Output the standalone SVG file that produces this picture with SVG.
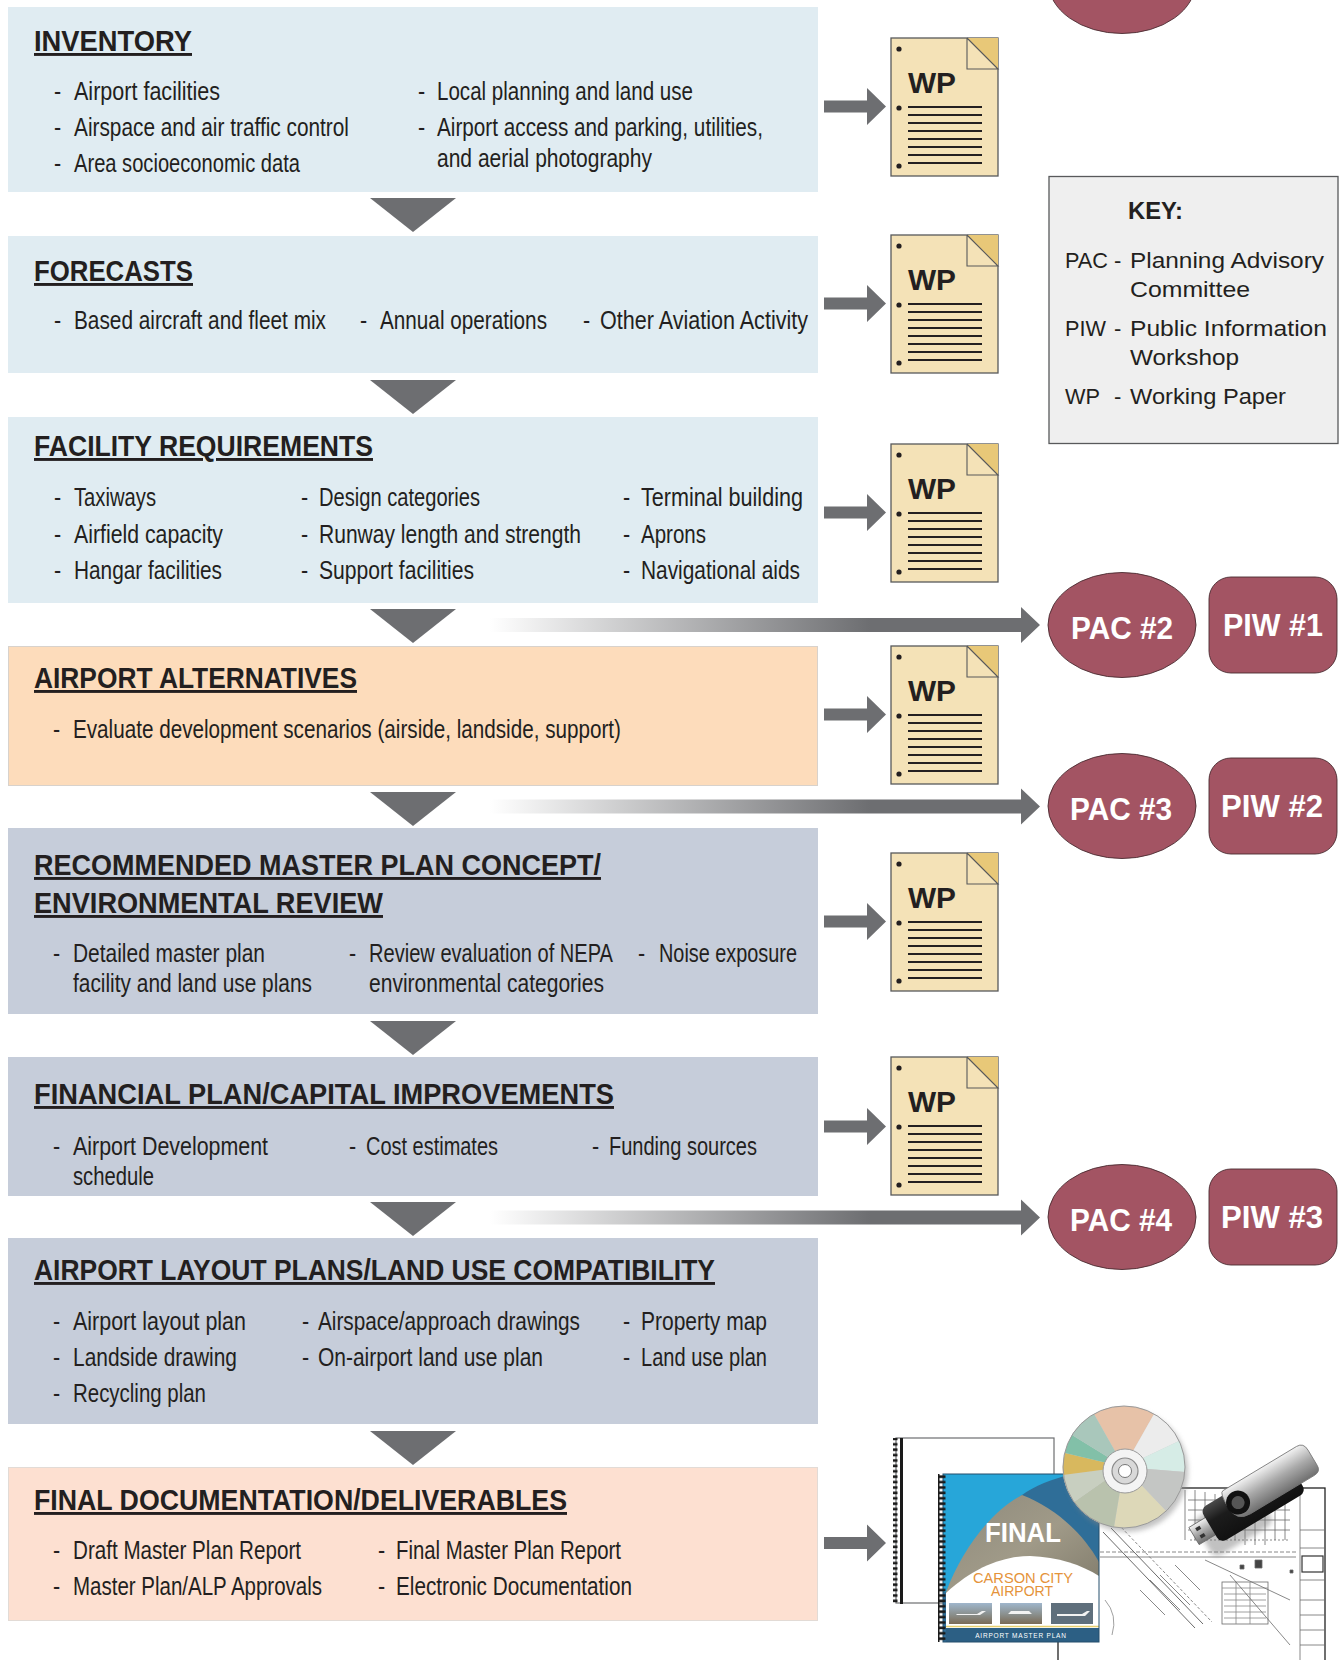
<svg xmlns="http://www.w3.org/2000/svg" width="1343" height="1660" viewBox="0 0 1343 1660">
<style>
.t{font-family:"Liberation Sans",Arial,sans-serif;font-weight:bold;font-size:29px;fill:#231f20;text-decoration:underline;}
.i{font-family:"Liberation Sans",Arial,sans-serif;font-size:21.5px;fill:#231f20;}
.k{font-family:"Liberation Sans",Arial,sans-serif;font-size:22px;fill:#231f20;}
.kb{font-family:"Liberation Sans",Arial,sans-serif;font-size:23px;font-weight:bold;fill:#231f20;}
.blue{fill:#e0ecf2;}
.gray{fill:#c6cdda;}
.orange{fill:#fddcbb;stroke:#d8d2cc;stroke-width:1;}
.peach{fill:#fde0d1;stroke:#e2dbd6;stroke-width:1;}
.page{fill:#f4e2b7;stroke:#58595b;stroke-width:1.3;}
.fold{fill:#e8c878;}
.foldl{fill:none;stroke:#58595b;stroke-width:1.1;}
.dot{fill:#231f20;}
.ln{stroke:#231f20;stroke-width:2.2;}
.wp{font-family:"Liberation Sans",Arial,sans-serif;font-weight:bold;font-size:30px;fill:#231f20;}
.arr{fill:#6d6e71;}
.pac{fill:#a35463;stroke:#4a2a30;stroke-width:0.9;}
.pt{font-family:"Liberation Sans",Arial,sans-serif;font-weight:bold;font-size:31px;fill:#ffffff;}
.sheet{stroke:#6a6a6a;stroke-width:0.8;fill:none;}
</style>
<defs>
<linearGradient id="gbar" gradientUnits="userSpaceOnUse" x1="490" y1="0" x2="870" y2="0">
<stop offset="0" stop-color="#ffffff"/>
<stop offset="1" stop-color="#6d6e71"/>
</linearGradient>
<pattern id="spiral" patternUnits="userSpaceOnUse" width="12" height="5.4">
<rect x="0" y="0" width="3.5" height="5.4" fill="#1a1a1a"/>
<rect x="0" y="1.2" width="9.5" height="2.6" fill="#1a1a1a"/>
</pattern>
<linearGradient id="aerial" x1="0" y1="0" x2="1" y2="1">
<stop offset="0" stop-color="#8e8a7c"/>
<stop offset="0.5" stop-color="#a09a88"/>
<stop offset="1" stop-color="#7d7868"/>
</linearGradient>
<linearGradient id="photo" x1="0" y1="0" x2="0" y2="1">
<stop offset="0" stop-color="#9fb6cc"/>
<stop offset="0.55" stop-color="#8a8f8c"/>
<stop offset="1" stop-color="#7a6a55"/>
</linearGradient>
<linearGradient id="silver" x1="0" y1="0" x2="0" y2="1">
<stop offset="0" stop-color="#f2f2f2"/>
<stop offset="0.5" stop-color="#a9a9a9"/>
<stop offset="1" stop-color="#6f6f6f"/>
</linearGradient>
<linearGradient id="black" x1="0" y1="0" x2="0" y2="1">
<stop offset="0" stop-color="#4a4a4a"/>
<stop offset="0.4" stop-color="#1c1c1c"/>
<stop offset="1" stop-color="#111111"/>
</linearGradient>
<filter id="blur" x="-20%" y="-20%" width="140%" height="140%"><feGaussianBlur stdDeviation="2.5"/></filter>
</defs>

<rect width="1343" height="1660" fill="#ffffff"/>

<!-- Connectors -->
<g id="connectors">
<polygon class="arr" points="370,198 456,198 413,232"/>
<polygon class="arr" points="370,380 456,380 413,414"/>
<polygon class="arr" points="370,609 456,609 413,643"/>
<polygon class="arr" points="370,792 456,792 413,826"/>
<polygon class="arr" points="370,1021 456,1021 413,1055"/>
<polygon class="arr" points="370,1202 456,1202 413,1236"/>
<polygon class="arr" points="370,1431 456,1431 413,1465"/>
<path class="arr" d="M824,100.5 H867 V88 L886,106.5 L867,125 V112.5 H824 Z"/>
<path class="arr" d="M824,297.5 H867 V285 L886,303.5 L867,322 V309.5 H824 Z"/>
<path class="arr" d="M824,506.5 H867 V494 L886,512.5 L867,531 V518.5 H824 Z"/>
<path class="arr" d="M824,708.5 H867 V696 L886,714.5 L867,733 V720.5 H824 Z"/>
<path class="arr" d="M824,915.5 H867 V903 L886,921.5 L867,940 V927.5 H824 Z"/>
<path class="arr" d="M824,1120.5 H867 V1108 L886,1126.5 L867,1145 V1132.5 H824 Z"/>
<path class="arr" d="M824,1537 H867 V1524.5 L886,1543 L867,1561.5 V1549 H824 Z"/>
<path fill="url(#gbar)" d="M490,618 H1021 V607 L1040,625 L1021,643 V632 H490 Z"/>
<path fill="url(#gbar)" d="M490,799.5 H1021 V788.5 L1040,806.5 L1021,824.5 V813.5 H490 Z"/>
<path fill="url(#gbar)" d="M490,1210.5 H1021 V1199.5 L1040,1217.5 L1021,1235.5 V1224.5 H490 Z"/>
</g>

<!-- Box 1 -->
<g id="inventory">
<rect class="blue" x="8" y="7" width="810" height="185"/>
<text class="t" x="34" y="51" textLength="158" lengthAdjust="spacingAndGlyphs">INVENTORY</text>
<g transform="translate(0,100) scale(1,1.2)">
<text class="i" x="54" y="0">-</text><text class="i" x="74" y="0" textLength="146" lengthAdjust="spacingAndGlyphs">Airport facilities</text>
<text class="i" x="418" y="0">-</text><text class="i" x="437" y="0" textLength="256" lengthAdjust="spacingAndGlyphs">Local planning and land use</text>
</g>
<g transform="translate(0,136) scale(1,1.2)">
<text class="i" x="54" y="0">-</text><text class="i" x="74" y="0" textLength="275" lengthAdjust="spacingAndGlyphs">Airspace and air traffic control</text>
<text class="i" x="418" y="0">-</text><text class="i" x="437" y="0" textLength="326" lengthAdjust="spacingAndGlyphs">Airport access and parking, utilities,</text>
</g>
<g transform="translate(0,167) scale(1,1.2)">
<text class="i" x="437" y="0" textLength="215" lengthAdjust="spacingAndGlyphs">and aerial photography</text>
</g>
<g transform="translate(0,172) scale(1,1.2)">
<text class="i" x="54" y="0">-</text><text class="i" x="74" y="0" textLength="226" lengthAdjust="spacingAndGlyphs">Area socioeconomic data</text>
</g>
</g>

<!-- Box 2 -->
<g id="forecasts">
<rect class="blue" x="8" y="236" width="810" height="137"/>
<text class="t" x="34" y="281" textLength="159" lengthAdjust="spacingAndGlyphs">FORECASTS</text>
<g transform="translate(0,329) scale(1,1.2)">
<text class="i" x="54" y="0">-</text><text class="i" x="74" y="0" textLength="252" lengthAdjust="spacingAndGlyphs">Based aircraft and fleet mix</text>
<text class="i" x="360" y="0">-</text><text class="i" x="380" y="0" textLength="167" lengthAdjust="spacingAndGlyphs">Annual operations</text>
<text class="i" x="583" y="0">-</text><text class="i" x="600" y="0" textLength="208" lengthAdjust="spacingAndGlyphs">Other Aviation Activity</text>
</g>
</g>

<!-- Box 3 -->
<g id="facility-requirements">
<rect class="blue" x="8" y="417" width="810" height="186"/>
<text class="t" x="34" y="456" textLength="339" lengthAdjust="spacingAndGlyphs">FACILITY REQUIREMENTS</text>
<g transform="translate(0,506) scale(1,1.2)">
<text class="i" x="54" y="0">-</text><text class="i" x="74" y="0" textLength="82" lengthAdjust="spacingAndGlyphs">Taxiways</text>
<text class="i" x="301" y="0">-</text><text class="i" x="319" y="0" textLength="161" lengthAdjust="spacingAndGlyphs">Design categories</text>
<text class="i" x="623" y="0">-</text><text class="i" x="641" y="0" textLength="162" lengthAdjust="spacingAndGlyphs">Terminal building</text>
</g>
<g transform="translate(0,543) scale(1,1.2)">
<text class="i" x="54" y="0">-</text><text class="i" x="74" y="0" textLength="149" lengthAdjust="spacingAndGlyphs">Airfield capacity</text>
<text class="i" x="301" y="0">-</text><text class="i" x="319" y="0" textLength="262" lengthAdjust="spacingAndGlyphs">Runway length and strength</text>
<text class="i" x="623" y="0">-</text><text class="i" x="641" y="0" textLength="65" lengthAdjust="spacingAndGlyphs">Aprons</text>
</g>
<g transform="translate(0,579) scale(1,1.2)">
<text class="i" x="54" y="0">-</text><text class="i" x="74" y="0" textLength="148" lengthAdjust="spacingAndGlyphs">Hangar facilities</text>
<text class="i" x="301" y="0">-</text><text class="i" x="319" y="0" textLength="155" lengthAdjust="spacingAndGlyphs">Support facilities</text>
<text class="i" x="623" y="0">-</text><text class="i" x="641" y="0" textLength="159" lengthAdjust="spacingAndGlyphs">Navigational aids</text>
</g>
</g>

<!-- Box 4 -->
<g id="airport-alternatives">
<rect class="orange" x="8.5" y="646.5" width="809" height="139"/>
<text class="t" x="34" y="688" textLength="323" lengthAdjust="spacingAndGlyphs">AIRPORT ALTERNATIVES</text>
<g transform="translate(0,738) scale(1,1.2)">
<text class="i" x="53" y="0">-</text><text class="i" x="73" y="0" textLength="548" lengthAdjust="spacingAndGlyphs">Evaluate development scenarios (airside, landside, support)</text>
</g>
</g>

<!-- Box 5 -->
<g id="recommended-concept">
<rect class="gray" x="8" y="828" width="810" height="186"/>
<text class="t" x="34" y="875" textLength="567" lengthAdjust="spacingAndGlyphs">RECOMMENDED MASTER PLAN CONCEPT/</text>
<text class="t" x="34" y="913" textLength="349" lengthAdjust="spacingAndGlyphs">ENVIRONMENTAL REVIEW</text>
<g transform="translate(0,962) scale(1,1.2)">
<text class="i" x="53" y="0">-</text><text class="i" x="73" y="0" textLength="192" lengthAdjust="spacingAndGlyphs">Detailed master plan</text>
<text class="i" x="349" y="0">-</text><text class="i" x="369" y="0" textLength="244" lengthAdjust="spacingAndGlyphs">Review evaluation of NEPA</text>
<text class="i" x="638" y="0">-</text><text class="i" x="659" y="0" textLength="138" lengthAdjust="spacingAndGlyphs">Noise exposure</text>
</g>
<g transform="translate(0,992) scale(1,1.2)">
<text class="i" x="73" y="0" textLength="239" lengthAdjust="spacingAndGlyphs">facility and land use plans</text>
<text class="i" x="369" y="0" textLength="235" lengthAdjust="spacingAndGlyphs">environmental categories</text>
</g>
</g>

<!-- Box 6 -->
<g id="financial-plan">
<rect class="gray" x="8" y="1057" width="810" height="139"/>
<text class="t" x="34" y="1104" textLength="580" lengthAdjust="spacingAndGlyphs">FINANCIAL PLAN/CAPITAL IMPROVEMENTS</text>
<g transform="translate(0,1155) scale(1,1.2)">
<text class="i" x="53" y="0">-</text><text class="i" x="73" y="0" textLength="195" lengthAdjust="spacingAndGlyphs">Airport Development</text>
<text class="i" x="349" y="0">-</text><text class="i" x="366" y="0" textLength="132" lengthAdjust="spacingAndGlyphs">Cost estimates</text>
<text class="i" x="592" y="0">-</text><text class="i" x="609" y="0" textLength="148" lengthAdjust="spacingAndGlyphs">Funding sources</text>
</g>
<g transform="translate(0,1185) scale(1,1.2)">
<text class="i" x="73" y="0" textLength="81" lengthAdjust="spacingAndGlyphs">schedule</text>
</g>
</g>

<!-- Box 7 -->
<g id="airport-layout-plans">
<rect class="gray" x="8" y="1238" width="810" height="186"/>
<text class="t" x="34" y="1280" textLength="681" lengthAdjust="spacingAndGlyphs">AIRPORT LAYOUT PLANS/LAND USE COMPATIBILITY</text>
<g transform="translate(0,1330) scale(1,1.2)">
<text class="i" x="53" y="0">-</text><text class="i" x="73" y="0" textLength="173" lengthAdjust="spacingAndGlyphs">Airport layout plan</text>
<text class="i" x="302" y="0">-</text><text class="i" x="318" y="0" textLength="262" lengthAdjust="spacingAndGlyphs">Airspace/approach drawings</text>
<text class="i" x="623" y="0">-</text><text class="i" x="641" y="0" textLength="126" lengthAdjust="spacingAndGlyphs">Property map</text>
</g>
<g transform="translate(0,1366) scale(1,1.2)">
<text class="i" x="53" y="0">-</text><text class="i" x="73" y="0" textLength="164" lengthAdjust="spacingAndGlyphs">Landside drawing</text>
<text class="i" x="302" y="0">-</text><text class="i" x="318" y="0" textLength="225" lengthAdjust="spacingAndGlyphs">On-airport land use plan</text>
<text class="i" x="623" y="0">-</text><text class="i" x="641" y="0" textLength="126" lengthAdjust="spacingAndGlyphs">Land use plan</text>
</g>
<g transform="translate(0,1402) scale(1,1.2)">
<text class="i" x="53" y="0">-</text><text class="i" x="73" y="0" textLength="133" lengthAdjust="spacingAndGlyphs">Recycling plan</text>
</g>
</g>

<!-- Box 8 -->
<g id="final-documentation">
<rect class="peach" x="8.5" y="1467.5" width="809" height="153"/>
<text class="t" x="34" y="1510" textLength="533" lengthAdjust="spacingAndGlyphs">FINAL DOCUMENTATION/DELIVERABLES</text>
<g transform="translate(0,1559) scale(1,1.2)">
<text class="i" x="53" y="0">-</text><text class="i" x="73" y="0" textLength="228" lengthAdjust="spacingAndGlyphs">Draft Master Plan Report</text>
<text class="i" x="378" y="0">-</text><text class="i" x="396" y="0" textLength="225" lengthAdjust="spacingAndGlyphs">Final Master Plan Report</text>
</g>
<g transform="translate(0,1595) scale(1,1.2)">
<text class="i" x="53" y="0">-</text><text class="i" x="73" y="0" textLength="249" lengthAdjust="spacingAndGlyphs">Master Plan/ALP Approvals</text>
<text class="i" x="378" y="0">-</text><text class="i" x="396" y="0" textLength="236" lengthAdjust="spacingAndGlyphs">Electronic Documentation</text>
</g>
</g>

<!-- WP icons -->
<g id="wp1" transform="translate(891,38)">
<rect class="page" x="0" y="0" width="107" height="138"/>
<polygon class="fold" points="76,0 107,0 107,31"/>
<polyline class="foldl" points="76,0 76,31 107,31 76,0"/>
<circle class="dot" cx="8" cy="11" r="2.6"/><circle class="dot" cx="8" cy="70" r="2.6"/><circle class="dot" cx="8" cy="128" r="2.6"/>
<text class="wp" x="17" y="55" textLength="48" lengthAdjust="spacingAndGlyphs">WP</text>
<path class="ln" d="M17,69H91M17,77H91M17,85H91M17,93H91M17,101H91M17,109H91M17,117H91M17,125H91"/>
</g>
<g id="wp2" transform="translate(891,235)">
<rect class="page" x="0" y="0" width="107" height="138"/>
<polygon class="fold" points="76,0 107,0 107,31"/>
<polyline class="foldl" points="76,0 76,31 107,31 76,0"/>
<circle class="dot" cx="8" cy="11" r="2.6"/><circle class="dot" cx="8" cy="70" r="2.6"/><circle class="dot" cx="8" cy="128" r="2.6"/>
<text class="wp" x="17" y="55" textLength="48" lengthAdjust="spacingAndGlyphs">WP</text>
<path class="ln" d="M17,69H91M17,77H91M17,85H91M17,93H91M17,101H91M17,109H91M17,117H91M17,125H91"/>
</g>
<g id="wp3" transform="translate(891,444)">
<rect class="page" x="0" y="0" width="107" height="138"/>
<polygon class="fold" points="76,0 107,0 107,31"/>
<polyline class="foldl" points="76,0 76,31 107,31 76,0"/>
<circle class="dot" cx="8" cy="11" r="2.6"/><circle class="dot" cx="8" cy="70" r="2.6"/><circle class="dot" cx="8" cy="128" r="2.6"/>
<text class="wp" x="17" y="55" textLength="48" lengthAdjust="spacingAndGlyphs">WP</text>
<path class="ln" d="M17,69H91M17,77H91M17,85H91M17,93H91M17,101H91M17,109H91M17,117H91M17,125H91"/>
</g>
<g id="wp4" transform="translate(891,646)">
<rect class="page" x="0" y="0" width="107" height="138"/>
<polygon class="fold" points="76,0 107,0 107,31"/>
<polyline class="foldl" points="76,0 76,31 107,31 76,0"/>
<circle class="dot" cx="8" cy="11" r="2.6"/><circle class="dot" cx="8" cy="70" r="2.6"/><circle class="dot" cx="8" cy="128" r="2.6"/>
<text class="wp" x="17" y="55" textLength="48" lengthAdjust="spacingAndGlyphs">WP</text>
<path class="ln" d="M17,69H91M17,77H91M17,85H91M17,93H91M17,101H91M17,109H91M17,117H91M17,125H91"/>
</g>
<g id="wp5" transform="translate(891,853)">
<rect class="page" x="0" y="0" width="107" height="138"/>
<polygon class="fold" points="76,0 107,0 107,31"/>
<polyline class="foldl" points="76,0 76,31 107,31 76,0"/>
<circle class="dot" cx="8" cy="11" r="2.6"/><circle class="dot" cx="8" cy="70" r="2.6"/><circle class="dot" cx="8" cy="128" r="2.6"/>
<text class="wp" x="17" y="55" textLength="48" lengthAdjust="spacingAndGlyphs">WP</text>
<path class="ln" d="M17,69H91M17,77H91M17,85H91M17,93H91M17,101H91M17,109H91M17,117H91M17,125H91"/>
</g>
<g id="wp6" transform="translate(891,1057)">
<rect class="page" x="0" y="0" width="107" height="138"/>
<polygon class="fold" points="76,0 107,0 107,31"/>
<polyline class="foldl" points="76,0 76,31 107,31 76,0"/>
<circle class="dot" cx="8" cy="11" r="2.6"/><circle class="dot" cx="8" cy="70" r="2.6"/><circle class="dot" cx="8" cy="128" r="2.6"/>
<text class="wp" x="17" y="55" textLength="48" lengthAdjust="spacingAndGlyphs">WP</text>
<path class="ln" d="M17,69H91M17,77H91M17,85H91M17,93H91M17,101H91M17,109H91M17,117H91M17,125H91"/>
</g>

<!-- PAC / PIW -->
<g id="pac1"><ellipse class="pac" cx="1122" cy="-19" rx="74" ry="52.5"/></g>
<g id="pac2"><ellipse class="pac" cx="1122" cy="625" rx="74" ry="52.5"/><text class="pt" x="1071" y="639" textLength="102" lengthAdjust="spacingAndGlyphs">PAC #2</text></g>
<g id="piw1"><rect class="pac" x="1209" y="577" width="128" height="96" rx="22"/><text class="pt" x="1223" y="636" textLength="100" lengthAdjust="spacingAndGlyphs">PIW #1</text></g>
<g id="pac3"><ellipse class="pac" cx="1122" cy="806" rx="74" ry="52.5"/><text class="pt" x="1070" y="820" textLength="102" lengthAdjust="spacingAndGlyphs">PAC #3</text></g>
<g id="piw2"><rect class="pac" x="1209" y="758" width="128" height="96" rx="22"/><text class="pt" x="1221" y="817" textLength="102" lengthAdjust="spacingAndGlyphs">PIW #2</text></g>
<g id="pac4"><ellipse class="pac" cx="1122" cy="1217" rx="74" ry="52.5"/><text class="pt" x="1070" y="1231" textLength="102" lengthAdjust="spacingAndGlyphs">PAC #4</text></g>
<g id="piw3"><rect class="pac" x="1209" y="1169" width="128" height="96" rx="22"/><text class="pt" x="1221" y="1228" textLength="102" lengthAdjust="spacingAndGlyphs">PIW #3</text></g>

<!-- KEY -->
<g id="key">
<rect x="1049" y="176.5" width="289" height="267" fill="#efefef" stroke="#58595b" stroke-width="1.3"/>
<text class="kb" x="1128" y="219" textLength="55" lengthAdjust="spacingAndGlyphs">KEY:</text>
<text class="k" x="1065" y="268" textLength="43" lengthAdjust="spacingAndGlyphs">PAC</text>
<text class="k" x="1114" y="268">-</text>
<text class="k" x="1130" y="268" textLength="194" lengthAdjust="spacingAndGlyphs">Planning Advisory</text>
<text class="k" x="1130" y="297" textLength="120" lengthAdjust="spacingAndGlyphs">Committee</text>
<text class="k" x="1065" y="336" textLength="41" lengthAdjust="spacingAndGlyphs">PIW</text>
<text class="k" x="1114" y="336">-</text>
<text class="k" x="1130" y="336" textLength="197" lengthAdjust="spacingAndGlyphs">Public Information</text>
<text class="k" x="1130" y="365" textLength="109" lengthAdjust="spacingAndGlyphs">Workshop</text>
<text class="k" x="1065" y="404" textLength="35" lengthAdjust="spacingAndGlyphs">WP</text>
<text class="k" x="1114" y="404">-</text>
<text class="k" x="1130" y="404" textLength="156" lengthAdjust="spacingAndGlyphs">Working Paper</text>
</g>

<!-- Deliverables illustration -->
<g id="deliverables">
<rect x="1058" y="1488" width="267" height="180" fill="#ffffff" stroke="#222" stroke-width="1.3"/>
<g class="sheet">
<line x1="1300" y1="1488" x2="1300" y2="1660"/>
<line x1="1300" y1="1530" x2="1325" y2="1530"/>
<line x1="1300" y1="1548" x2="1325" y2="1548"/>
<rect x="1302" y="1556" width="21" height="16" stroke="#333" stroke-width="1.2"/>
<line x1="1300" y1="1580" x2="1325" y2="1580"/>
<line x1="1300" y1="1600" x2="1325" y2="1600"/>
<line x1="1300" y1="1615" x2="1325" y2="1615"/>
<line x1="1300" y1="1630" x2="1325" y2="1630"/>
<line x1="1300" y1="1645" x2="1325" y2="1645"/>
<line x1="1103" y1="1532" x2="1195" y2="1628" stroke="#444"/>
<line x1="1111" y1="1528" x2="1203" y2="1624" stroke="#444"/>
<line x1="1118" y1="1524" x2="1212" y2="1622" stroke-dasharray="3 2"/>
<line x1="1100" y1="1552" x2="1296" y2="1552" stroke-dasharray="4 2"/>
<line x1="1100" y1="1557" x2="1296" y2="1557"/>
<line x1="1190" y1="1540" x2="1290" y2="1540" stroke-dasharray="2 2"/>
<path d="M1185,1490 V1540 M1195,1490 V1540 M1205,1492 V1540 M1215,1494 V1530 M1225,1500 V1530 M1235,1510 V1540 M1245,1515 V1545 M1255,1520 V1545 M1265,1515 V1545 M1275,1505 V1540 M1285,1495 V1540"/>
<path d="M1188,1500 H1290 M1188,1510 H1290 M1188,1520 H1290 M1188,1530 H1290"/>
<rect x="1222" y="1582" width="46" height="42"/>
<path d="M1222,1588 H1268 M1236,1582 V1624 M1250,1582 V1624 M1224,1594 H1266 M1224,1600 H1266 M1224,1606 H1266 M1224,1612 H1266 M1224,1618 H1266" stroke="#888"/>
<path d="M1150,1580 L1180,1610 M1160,1575 L1190,1605 M1140,1590 L1165,1615 M1175,1565 L1200,1590"/>
<path d="M1205,1560 L1290,1600 M1230,1575 L1290,1645"/>
<path d="M1105,1600 Q1118,1615 1112,1635" stroke="#888"/>
<path d="M1255,1560 H1262 V1568 H1255 Z M1240,1565 h4 v4 h-4 Z M1290,1570 h3 v3 h-3 Z" fill="#444"/>
</g>
<rect x="896" y="1438" width="158" height="165" fill="#ffffff" stroke="#6d6e71" stroke-width="1.2"/>
<rect x="893" y="1438" width="10" height="166" fill="url(#spiral)"/>
<rect x="943" y="1474" width="156" height="168" fill="#2f6e98"/>
<path d="M943,1474 H1072 C1052,1479 1034,1486 1022,1495 C995,1515 965,1550 946,1592 H943 Z" fill="#27a6d9"/>
<path d="M946,1592 C962,1550 990,1512 1022,1495 C1055,1508 1082,1532 1099,1562 V1603 H946 Z" fill="url(#aerial)"/>
<path d="M946,1603 V1593 C975,1566 1005,1556 1030,1556 C1058,1557 1082,1565 1099,1576 V1603 Z" fill="#ffffff"/>
<rect x="946" y="1602" width="153" height="26" fill="#ffffff"/>
<rect x="949" y="1603" width="43" height="21" fill="url(#photo)"/>
<rect x="1000" y="1603" width="42" height="21" fill="url(#photo)"/>
<rect x="1051" y="1603" width="42" height="21" fill="#5f6f7c"/>
<path d="M956,1615 h24 l6,-4 h-4 l-5,3 h-20 Z M1008,1614 h24 l-3,-3 h-18 Z M1057,1616 h28 l5,-5 h-3 l-5,3 h-25 Z" fill="#f2f2f2"/>
<line x1="946" y1="1626.5" x2="1099" y2="1626.5" stroke="#e7cf6e" stroke-width="1.5"/>
<rect x="946" y="1628" width="153" height="14" fill="#2c5f84"/>
<text x="1021" y="1638" text-anchor="middle" font-family="Liberation Sans, Arial, sans-serif" font-size="6.5" letter-spacing="0.8" fill="#ffffff">AIRPORT MASTER PLAN</text>
<text x="985" y="1542" font-family="Liberation Sans, Arial, sans-serif" font-weight="bold" font-size="28" fill="#ffffff" textLength="76" lengthAdjust="spacingAndGlyphs">FINAL</text>
<text x="973" y="1583" font-family="Liberation Sans, Arial, sans-serif" font-size="15.5" fill="#e5933a" textLength="100" lengthAdjust="spacingAndGlyphs">CARSON CITY</text>
<text x="991" y="1596" font-family="Liberation Sans, Arial, sans-serif" font-size="15.5" fill="#e5933a" textLength="62" lengthAdjust="spacingAndGlyphs">AIRPORT</text>
<rect x="943" y="1474" width="156" height="168" fill="none" stroke="#244f6c" stroke-width="1"/>
<rect x="938" y="1474" width="10" height="168" fill="url(#spiral)"/>
<circle cx="1127" cy="1471" r="61" fill="#888" opacity="0.5" filter="url(#blur)"/>
<g transform="translate(1124,1467)">
<circle r="61" fill="#cfcfcf"/>
<path d="M0,0 L-30,-53 A61,61 0 0 1 30,-53 Z" fill="#e7c2a8"/>
<path d="M0,0 L30,-53 A61,61 0 0 1 55,-26 Z" fill="#ececec"/>
<path d="M0,0 L55,-26 A61,61 0 0 1 61,5 Z" fill="#d6ece6"/>
<path d="M0,0 L61,5 A61,61 0 0 1 42,44 Z" fill="#c4c6c4"/>
<path d="M0,0 L42,44 A61,61 0 0 1 -10,60 Z" fill="#ddd8b8"/>
<path d="M0,0 L-10,60 A61,61 0 0 1 -50,35 Z" fill="#b9c2ad"/>
<path d="M0,0 L-50,35 A61,61 0 0 1 -61,8 Z" fill="#c8cfc0"/>
<path d="M0,0 L-61,8 A61,61 0 0 1 -59,-14 Z" fill="#d8b85e"/>
<path d="M0,0 L-59,-14 A61,61 0 0 1 -52,-32 Z" fill="#82c0a8"/>
<path d="M0,0 L-52,-32 A61,61 0 0 1 -30,-53 Z" fill="#a9c7bb"/>
<circle r="61" fill="none" stroke="#9a9a9a" stroke-width="1"/>
<circle cx="1" cy="4" r="22" fill="#f4f4f4" stroke="#9a9a9a" stroke-width="1"/>
<circle cx="1" cy="4" r="13" fill="#d9d9d9" stroke="#8a8a8a" stroke-width="1.2"/>
<circle cx="1" cy="4" r="6.5" fill="#ffffff" stroke="#777" stroke-width="1"/>
</g>
<g transform="translate(1254,1500) rotate(-31)">
<rect x="-64" y="-14" width="70" height="44" rx="8" fill="#777" opacity="0.45" filter="url(#blur)"/>
<rect x="-70" y="-10" width="22" height="20" fill="url(#silver)" stroke="#666" stroke-width="0.8"/>
<rect x="-65" y="-6" width="5" height="3.5" fill="#333"/>
<rect x="-65" y="2.5" width="5" height="3.5" fill="#333"/>
<rect x="-51" y="-20" width="100" height="40" rx="7" fill="url(#black)"/>
<path d="M-22,-24 H64 Q72,-24 72,-15 V3 Q72,10 64,10 H-10 Q-26,10 -26,-7 Q-26,-24 -22,-24 Z" fill="url(#silver)" stroke="#777" stroke-width="0.8"/>
<circle cx="-15" cy="-6" r="12" fill="#111"/>
<circle cx="-15" cy="-6" r="6.5" fill="#555"/>
</g>
</g>
</svg>
